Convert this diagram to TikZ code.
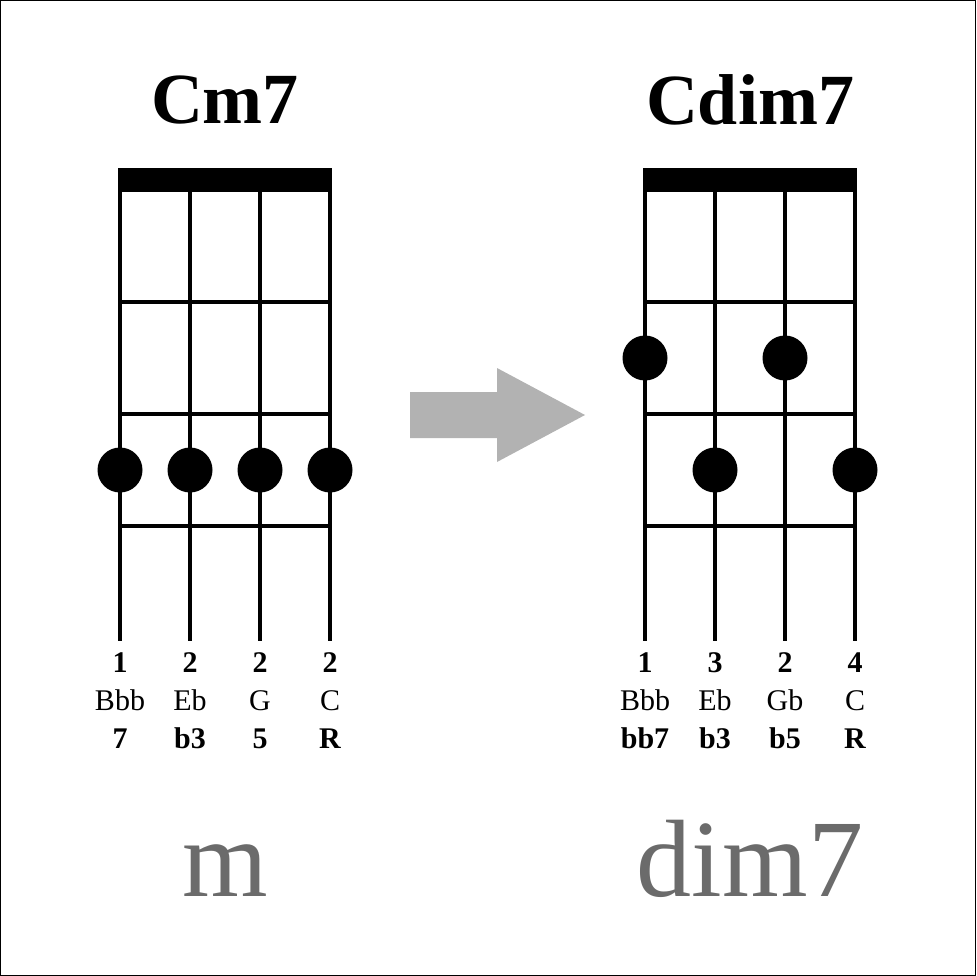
\documentclass[tikz,border=0pt]{standalone}
\usepackage{fontspec}
\setmainfont{Liberation Serif}
\begin{document}
\begin{tikzpicture}[x=1pt,y=-1pt,
  grid/.style={line width=3.5pt},
  dot/.style={circle,fill=black,minimum size=45pt,inner sep=0pt},
  ttl/.style={font=\fontsize{72}{72}\selectfont\bfseries},
  lbl/.style={font=\fontsize{30}{30}\selectfont,anchor=base},
  big/.style={font=\fontsize{110}{110}\selectfont,text=black!58,anchor=base}]
\useasboundingbox (0,0) rectangle (976,976);
\draw[line width=1.2pt] (0.6,0.6) rectangle (975.4,975.4);
\foreach \ox/\name in {120/L,645/R}{
  \fill (\ox-2,168) rectangle (\ox+212,192);
  \foreach \i in {0,1,2,3} \draw[grid] (\ox+70*\i,190) -- (\ox+70*\i,641);
  \foreach \y in {302,414,526} \draw[grid] (\ox,\y) -- (\ox+210,\y);
}
\node[ttl] (t1) at (225,100) {Cm7};
\node[ttl] (t2) at (750,100) {Cdim7};
\foreach \x in {120,190,260,330} \node[dot] at (\x,470) {};
\node[dot] (d1) at (645,358) {};
\node[dot] (d2) at (785,358) {};
\node[dot] (d3) at (715,470) {};
\node[dot] (d4) at (855,470) {};
\foreach \x/\f/\n/\i in {120/1/Bbb/7,190/2/Eb/b3,260/2/G/5,330/2/C/R,645/1/Bbb/bb7,715/3/Eb/b3,785/2/Gb/b5,855/4/C/R}{
  \node[lbl,font=\fontsize{30}{30}\selectfont\bfseries] at (\x,672) {\f};
  \node[lbl] at (\x,710) {\n};
  \node[lbl,font=\fontsize{30}{30}\selectfont\bfseries] at (\x,748) {\i};
}
\fill[black!30] (410,392) -- (497,392) -- (497,368) -- (585,415) -- (497,462) -- (497,438) -- (410,438) -- cycle;
\node[big] (m) at (225,896) {m};
\node[big] (dm) at (750,896) {dim7};
\end{tikzpicture}
\end{document}
